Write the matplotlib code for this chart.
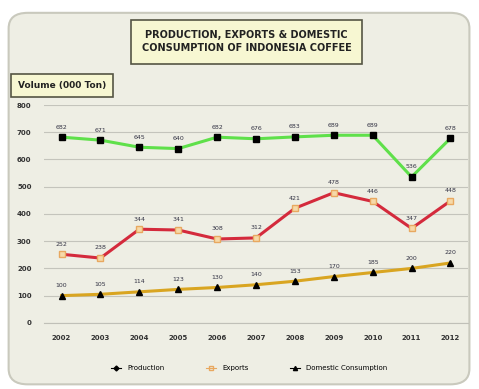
import matplotlib
matplotlib.use("Agg")
import matplotlib.pyplot as plt
from matplotlib.patches import FancyBboxPatch

years = ["2002", "2003", "2004", "2005", "2006", "2007", "2008", "2009", "2010", "2011", "2012"]
production = [682, 671, 645, 640, 682, 676, 683, 689, 689, 536, 678]
exports = [252, 238, 344, 341, 308, 312, 421, 478, 446, 347, 448]
domestic = [100, 105, 114, 123, 130, 140, 153, 170, 185, 200, 220]

fig = plt.figure(figsize=(4.79, 3.89), dpi=100)
fig.patch.set_facecolor("white")

# rounded outer frame
frame = FancyBboxPatch((0.018, 0.012), 0.962, 0.955, boxstyle="round,pad=0,rounding_size=0.04",
                       transform=fig.transFigure, facecolor="#eeeee4", edgecolor="#c9c9bd", lw=1.5,
                       zorder=-5)
fig.patches.append(frame)

ax = fig.add_axes([0.092, 0.17, 0.885, 0.56])
ax.set_facecolor("#eeeee4")
x = range(len(years))

ax.plot(x, production, color="#5fe04a", lw=2.2, marker="s", ms=4.5, mfc="black", mec="black", zorder=3)
ax.plot(x, exports, color="#d42a3c", lw=2.2, marker="s", ms=5, mfc="#f6d9a8", mec="#e8a860", zorder=3)
ax.plot(x, domestic, color="#d9a521", lw=2.2, marker="^", ms=4.5, mfc="black", mec="black", zorder=3)

for vals in (production, exports, domestic):
    for i, v in enumerate(vals):
        ax.text(i, v + 28, str(v), ha="center", va="bottom", fontsize=4.5, color="#333344")

ax.set_ylim(0, 800)
ax.set_xlim(-0.45, 10.45)
ax.set_yticks(range(0, 801, 100))
ax.set_yticklabels([str(v) for v in range(0, 801, 100)], fontsize=5, fontweight="bold", color="#333333")
ax.set_xticks(list(x))
ax.set_xticklabels(years, fontsize=5, fontweight="bold", color="#333333")
ax.tick_params(axis="both", length=0, pad=9)
ax.yaxis.grid(True, color="#c4c4bc", lw=0.8)
ax.set_axisbelow(True)
for s in ("top", "right", "left"):
    ax.spines[s].set_visible(False)
ax.spines["bottom"].set_color("#c0c0b8")

# legend
leg_handles = [
    plt.Line2D([], [], color="black", marker="D", ms=2.5, lw=0.8),
    plt.Line2D([], [], color="#e8a860", marker="s", ms=3.5, mfc="none", lw=0.8),
    plt.Line2D([], [], color="black", marker="^", ms=3, lw=0.8),
]
fig.legend(leg_handles, ["Production", "Exports", "Domestic Consumption"], loc="center",
           bbox_to_anchor=(0.52, 0.053), ncol=3, frameon=False, fontsize=5, handlelength=1.5,
           columnspacing=6)

# title box
fig.text(0.515, 0.893, "PRODUCTION, EXPORTS & DOMESTIC\nCONSUMPTION OF INDONESIA COFFEE",
         ha="center", va="center", fontsize=7, fontweight="bold", color="#222222",
         linespacing=1.3,
         bbox=dict(boxstyle="square,pad=1.1", fc="#f7f7d2", ec="#555544", lw=1.2))
fig.text(0.037, 0.78, "Volume (000 Ton)", ha="left", va="center", fontsize=6.5,
         fontweight="bold", color="#222222",
         bbox=dict(boxstyle="square,pad=0.8", fc="#f7f7d2", ec="#555544", lw=1.2))

fig.savefig("out.png", dpi=100)
